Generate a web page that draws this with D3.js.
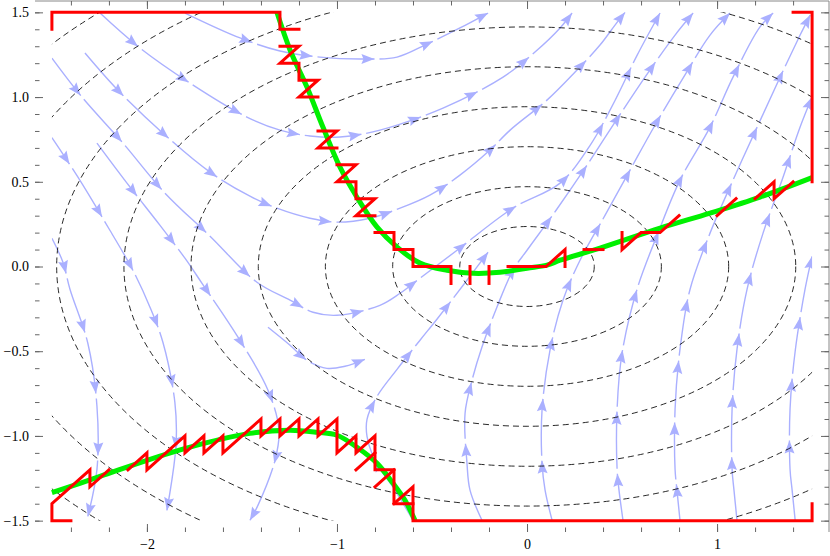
<!DOCTYPE html>
<html>
<head>
<meta charset="utf-8">
<script src="https://cdn.jsdelivr.net/npm/d3@7"></script>
<style>
body { margin: 0; background: #fff; }
</style>
</head>
<body>
<div id="chart"></div>
<script>
// contour ellipses, all centred on the origin (semi-axes)
var contourCenter = [0, 0];
var contourRx = [0.354, 0.707, 1.061, 1.414, 1.768, 2.121, 2.475, 2.828, 3.182];
var contourRy = [0.236, 0.471, 0.707, 0.943, 1.179, 1.414, 1.650, 1.886, 2.121];

// stream lines (x, y), in flow direction
var streams = [
  [[-1.80,1.496],[-1.51,1.349],[-1.30,1.272],[-1.09,1.236],[-0.863,1.225],[-0.684,1.236],[-0.526,1.313],[-0.353,1.408],[-0.205,1.496]],
  [[-2.247,1.496],[-2.037,1.29],[-1.774,1.083],[-1.474,0.882],[-1.30,0.805],[-1.142,0.77],[-0.984,0.764],[-0.774,0.805],[-0.442,0.935],[-0.126,1.118],[0.042,1.266],[0.174,1.408],[0.237,1.496]],
  [[-2.326,1.26],[-2.153,1.041],[-1.916,0.787],[-1.668,0.557],[-1.458,0.415],[-1.316,0.344],[-1.142,0.285],[-1.0,0.262],[-0.826,0.285],[-0.668,0.344],[-0.511,0.421],[-0.353,0.539],[-0.195,0.687],[-0.089,0.805],[0.105,0.982],[0.253,1.148],[0.384,1.307],[0.463,1.425],[0.516,1.5]],
  [[-2.5,1.23],[-2.342,1.0],[-2.126,0.728],[-1.905,0.433],[-1.668,0.179],[-1.421,-0.093],[-1.247,-0.199],[-1.126,-0.27],[-1.0,-0.288],[-0.774,-0.229],[-0.668,-0.158],[-0.563,-0.069],[-0.368,0.096],[-0.074,0.345],[0.174,0.492],[0.332,0.715],[0.463,0.98],[0.579,1.246],[0.7,1.496]],
  [[-2.263,0.728],[-2.105,0.492],[-1.932,0.244],[-1.8,0.049],[-1.711,-0.098],[-1.521,-0.417],[-1.363,-0.73],[-1.305,-0.967],[-1.326,-1.144],[-1.416,-1.41],[-1.458,-1.498]],
  [[-2.5,0.76],[-2.363,0.527],[-2.195,0.214],[-2.074,-0.022],[-1.984,-0.24],[-1.916,-0.447],[-1.853,-0.802],[-1.847,-1.056],[-1.895,-1.44]],
  [[-2.5,0.167],[-2.442,0.025],[-2.405,-0.134],[-2.311,-0.453],[-2.263,-0.825],[-2.263,-1.197],[-2.311,-1.475]],
  [[-1.363,-0.359],[-1.247,-0.465],[-1.158,-0.553],[-1.053,-0.601],[-0.958,-0.589],[-0.853,-0.548]],
  [[-0.6,-1.498],[-0.695,-1.32],[-0.8,-1.144],[-0.842,-1.002],[-0.842,-0.902],[-0.789,-0.766],[-0.684,-0.607],[-0.563,-0.435],[-0.474,-0.311],[-0.316,-0.081],[-0.205,0.084]],
  [[-0.237,-1.498],[-0.3,-1.32],[-0.316,-1.16],[-0.326,-0.866],[-0.289,-0.67],[-0.237,-0.475],[-0.158,-0.239],[-0.074,-0.022],[0,0.096],[0.153,0.332],[0.305,0.58],[0.463,0.852],[0.621,1.118],[0.779,1.366],[0.874,1.496]],
  [[0.132,-1.498],[0.095,-1.32],[0.079,-1.16],[0.079,-0.848],[0.121,-0.494],[0.189,-0.199],[0.279,0.037],[0.411,0.303],[0.542,0.569],[0.674,0.835],[0.821,1.112],[0.963,1.366],[1.068,1.496]],
  [[0.505,-1.498],[0.484,-1.32],[0.474,-1.197],[0.474,-0.842],[0.5,-0.512],[0.579,-0.134],[0.689,0.197],[0.805,0.51],[0.963,0.823],[1.084,1.118],[1.226,1.414],[1.295,1.496]],
  [[0.805,-1.498],[0.789,-1.32],[0.779,-1.197],[0.779,-0.842],[0.805,-0.488],[0.858,-0.134],[0.963,0.197],[1.084,0.51],[1.211,0.823],[1.332,1.118],[1.437,1.366],[1.49,1.484]],
  [[1.105,-1.498],[1.089,-1.32],[1.079,-1.197],[1.079,-0.842],[1.105,-0.488],[1.158,-0.134],[1.242,0.197],[1.342,0.51],[1.437,0.823],[1.5,1.0]],
  [[1.411,-1.498],[1.395,-1.32],[1.384,-1.197],[1.384,-0.842],[1.411,-0.5],[1.463,-0.134],[1.5,0.06]]
];

// green curves
var greenUpper = [[-1.316,1.5],[-1.247,1.278],[-1.158,1.059],[-1.074,0.823],[-0.984,0.586],[-0.895,0.409],[-0.789,0.232],[-0.684,0.114],[-0.563,0.02],[-0.421,-0.022],[-0.284,-0.04],[-0.142,-0.034],[0,-0.01],[0.105,0.008],[0.174,0.037],[0.384,0.108],[0.7,0.226],[0.963,0.315],[1.226,0.41],[1.5,0.525]];
var greenLower = [[-2.5,-1.335],[-2.247,-1.239],[-1.984,-1.138],[-1.721,-1.05],[-1.458,-0.985],[-1.247,-0.967],[-1.105,-0.979],[-1.0,-0.996],[-0.895,-1.067],[-0.789,-1.162],[-0.705,-1.28],[-0.642,-1.38],[-0.589,-1.5]];

// red step paths
var redPaths = [
  [[-2.5,1.4],[-2.5,1.5],[-1.3,1.5],[-1.3,1.4],[-1.2,1.4]],
  [[-1.3,1.3],[-1.2,1.3],[-1.3,1.2],[-1.2,1.2],[-1.2,1.1],[-1.1,1.1],[-1.2,1.0],[-1.1,1.0]],
  [[-1.1,0.8],[-1.0,0.8],[-1.1,0.7],[-1.0,0.7]],
  [[-1.0,0.6],[-0.9,0.6],[-1.0,0.5],[-0.9,0.5],[-0.9,0.4],[-0.8,0.4],[-0.9,0.3],[-0.8,0.3]],
  [[-0.8,0.2],[-0.7,0.2],[-0.7,0.1],[-0.6,0.1],[-0.6,0.0],[-0.4,0.0],[-0.4,-0.1]],
  [[-0.3,0.0],[-0.3,-0.1]],
  [[-0.2,0.0],[-0.2,-0.1]],
  [[-0.1,0.0],[0.1,0.0],[0.2,0.1],[0.2,0.0]],
  [[0.3,0.1],[0.4,0.1]],
  [[0.5,0.2],[0.5,0.1],[0.6,0.2],[0.7,0.2],[0.8,0.3]],
  [[1.0,0.3],[1.1,0.4]],
  [[1.2,0.4],[1.3,0.5],[1.3,0.4],[1.4,0.5]],
  [[1.4,1.5],[1.5,1.5],[1.5,0.5]],
  [[-2.4,-1.5],[-2.5,-1.5],[-2.5,-1.4],[-2.3,-1.2],[-2.3,-1.3],[-2.2,-1.2]],
  [[-2.1,-1.2],[-2.0,-1.1],[-2.0,-1.2],[-1.8,-1.0],[-1.8,-1.1],[-1.7,-1.0],[-1.7,-1.1],[-1.6,-1.0],[-1.6,-1.1],[-1.4,-0.9],[-1.4,-1.0],[-1.3,-0.9],[-1.3,-1.0],[-1.2,-0.9],[-1.2,-1.0],[-1.1,-0.9],[-1.1,-1.0],[-1.0,-0.9],[-1.0,-1.1],[-0.9,-1.0],[-0.9,-1.1],[-0.8,-1.0],[-0.8,-1.2],[-0.7,-1.2],[-0.7,-1.4],[-0.6,-1.4]],
  [[-0.7,-1.4],[-0.6,-1.3],[-0.6,-1.5],[1.5,-1.5],[1.5,-1.4]],
  [[-0.9,-1.2],[-0.8,-1.1]],
  [[-0.8,-1.3],[-0.7,-1.2]]
];

var xMajor = [-2, -1, 0, 1],
    xMinor = d3.range(-2.4, 1.5, 0.2),
    yMajor = [-1.5, -1, -0.5, 0, 0.5, 1, 1.5],
    yMinor = d3.range(-1.5, 1.55, 0.1);

var width = 830, height = 556;
var svg = d3.select("#chart").append("svg")
    .attr("width", width)
    .attr("height", height);

var x = d3.scaleLinear().domain([-2.589, 1.589]).range([35, 829]),
    y = d3.scaleLinear().domain([-1.567, 1.567]).range([532, 1]);

svg.append("clipPath").attr("id", "plotclip")
  .append("rect")
    .attr("x", x(-2.5)).attr("y", y(1.5))
    .attr("width", x(1.5) - x(-2.5)).attr("height", y(-1.5) - y(1.5));

var streamColor = "#aab0ff";
var gStream = svg.append("g").attr("clip-path", "url(#plotclip)");
var curveLine = d3.line()
    .x(function(d) { return x(d[0]); })
    .y(function(d) { return y(d[1]); })
    .curve(d3.curveCatmullRom.alpha(0.5));

streams.forEach(function(pts) {
  var p = gStream.append("path")
      .attr("d", curveLine(pts))
      .attr("fill", "none")
      .attr("stroke", streamColor)
      .attr("stroke-width", 1.4);
  var node = p.node(), L = node.getTotalLength();
  var marks = [];
  for (var s = L; s > 30; s -= 62) marks.unshift(s);
  // small break in the line just after each head
  var dash = [], prev = 0;
  marks.forEach(function(s, i) {
    if (i < marks.length - 1) { dash.push(s - prev, 5); prev = s + 5; }
  });
  dash.push(L + 10);
  p.attr("stroke-dasharray", dash.join(","));
  marks.forEach(function(s) {
    var a = node.getPointAtLength(s), b = node.getPointAtLength(Math.max(0, s - 5));
    var ang = Math.atan2(a.y - b.y, a.x - b.x) * 180 / Math.PI;
    gStream.append("path")
        .attr("d", "M0,0L-13,-5L-11,0L-13,5Z")
        .attr("transform", "translate(" + a.x + "," + a.y + ")rotate(" + ang + ")")
        .attr("fill", streamColor);
  });
});

// dashed contours
var gCont = svg.append("g").attr("clip-path", "url(#plotclip)");
contourRx.forEach(function(rx, i) {
  gCont.append("ellipse")
      .attr("cx", x(contourCenter[0]))
      .attr("cy", y(contourCenter[1]))
      .attr("rx", x(rx) - x(0))
      .attr("ry", y(0) - y(contourRy[i]))
      .attr("fill", "none")
      .attr("stroke", "#111")
      .attr("stroke-width", 0.9)
      .attr("stroke-dasharray", "6,4");
});

var line = d3.line()
    .x(function(d) { return x(d[0]); })
    .y(function(d) { return y(d[1]); });

[greenUpper, greenLower].forEach(function(pts) {
  svg.append("path")
      .attr("d", curveLine(pts))
      .attr("fill", "none")
      .attr("stroke", "#00f000")
      .attr("stroke-width", 5)
      .attr("stroke-linecap", "butt");
});

redPaths.forEach(function(pts) {
  svg.append("path")
      .attr("d", line(pts))
      .attr("fill", "none")
      .attr("stroke", "#ff0000")
      .attr("stroke-width", 3)
      .attr("stroke-linejoin", "miter")
      .attr("stroke-linecap", "square");
});

// frame: only top and right edges are drawn
svg.append("line").attr("x1", 35).attr("x2", 829).attr("y1", 1).attr("y2", 1)
    .attr("stroke", "#888").attr("stroke-width", 1);
svg.append("line").attr("x1", 829).attr("x2", 829).attr("y1", 1).attr("y2", 532)
    .attr("stroke", "#888").attr("stroke-width", 1);

function ticks(axis, tr, vals, size, fmt, pad) {
  var g = svg.append("g")
      .attr("transform", tr)
      .call(axis.tickValues(vals).tickSize(size).tickPadding(pad).tickFormat(fmt))
      .attr("font-family", "'Liberation Serif', 'Times New Roman', serif")
      .attr("font-size", 14);
  g.select(".domain").remove();
  g.selectAll("line").attr("stroke", "#666");
  g.selectAll("text").attr("fill", "#000");
  return g;
}

ticks(d3.axisBottom(x), "translate(0,532)", xMinor, -4.5, "", 0);
ticks(d3.axisBottom(x), "translate(0,532)", xMajor, -8, d3.format("d"), 7);
ticks(d3.axisTop(x), "translate(0,1)", xMinor, -4.5, "", 0);
ticks(d3.axisTop(x), "translate(0,1)", xMajor, -8, "", 0);
ticks(d3.axisLeft(y), "translate(35,0)", yMinor, -4.5, "", 0);
ticks(d3.axisLeft(y), "translate(35,0)", yMajor, -8, d3.format(".1f"), 6);
ticks(d3.axisRight(y), "translate(829,0)", yMinor, -4.5, "", 0);
ticks(d3.axisRight(y), "translate(829,0)", yMajor, -8, "", 0);
</script>
</body>
</html>
